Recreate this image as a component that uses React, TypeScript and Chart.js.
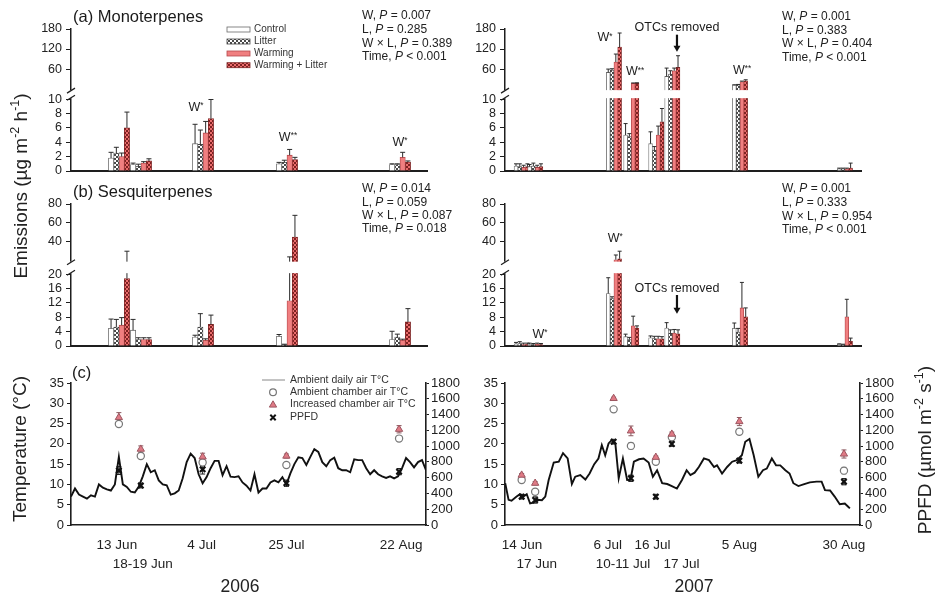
import { useEffect, useRef } from 'react';
import { Chart, registerables, LinearScale } from 'chart.js';

// ---------- broken (two-segment) value scale ----------
class BrokenScale extends LinearScale {
  static id = 'broken';
  static defaults = {};
  getPixelForValue(value: any) {
    const o: any = (this.options as any).brk;
    if (!o || value === null || value === undefined || isNaN(value)) return super.getPixelForValue(value);
    const bottom = this.bottom, top = this.top, h = bottom - top;
    const lowTop = bottom - h * o.lowFrac;
    const highBottom = lowTop - h * o.gapFrac;
    if (value <= o.lowMax) return bottom - (value / o.lowMax) * (bottom - lowTop);
    return highBottom - ((value - o.highMin) / (o.highMax - o.highMin)) * (highBottom - top);
  }
  getValueForPixel(pixel: number) {
    const o: any = (this.options as any).brk;
    if (!o) return super.getValueForPixel(pixel);
    const bottom = this.bottom, top = this.top, h = bottom - top;
    const lowTop = bottom - h * o.lowFrac;
    const highBottom = lowTop - h * o.gapFrac;
    if (pixel >= lowTop) return ((bottom - pixel) / (bottom - lowTop)) * o.lowMax;
    return o.highMin + ((highBottom - pixel) / (highBottom - top)) * (o.highMax - o.highMin);
  }
}
Chart.register(...registerables, BrokenScale as any);

const FONT = "'Liberation Sans', Arial, Helvetica, sans-serif";
const INK = '#1e1e1e';
Chart.defaults.font.family = FONT;
Chart.defaults.color = INK;

// ---------------- DATA ----------------
const treatments = ['Control', 'Litter', 'Warming', 'Warming + Litter'];

// sampling dates (day of year, as placed on the axis)
const sampleDays2006 = [164, 169.5, 185, 206, 234.25];
const sampleDays2007 = [165.4, 168.6, 187.2, 191.3, 197.2, 201.0, 217.0, 241.8];
const xRange2006 = [152, 241];
const xRange2007 = [161.45, 245.6];

// x tick labels (row 0 = first line, row 1 = second line)
const xTickDays2006 = [163.5, 170, 184.75, 206, 234.75];
const xTickText2006 = ['13 Jun', '18-19 Jun', '4 Jul', '25 Jul', '22 Aug'];
const xTickRow2006 = [0, 1, 0, 0, 0];
const xTickDays2007 = [165.5, 169, 185.8, 189.4, 196.4, 203.3, 217, 241.8];
const xTickText2007 = ['14 Jun', '17 Jun', '6 Jul', '10-11 Jul', '16 Jul', '17 Jul', '5 Aug', '30 Aug'];
const xTickRow2007 = [0, 1, 0, 1, 0, 1, 0, 0];

// y tick labels
const monoTicks = [0, 2, 4, 6, 8, 10, 60, 120, 180];
const sesqTicks = [0, 4, 8, 12, 16, 20, 40, 60, 80];
const tempTicks = [0, 5, 10, 15, 20, 25, 30, 35];
const ppfdTicks = [0, 200, 400, 600, 800, 1000, 1200, 1400, 1600, 1800];

// (a) Monoterpenes 2006 : mean and SE
const monoC06 = [1.8, 0.9, 3.8, 1.0, 0.9];
const monoL06 = [2.5, 0.65, 3.7, 1.2, 0.9];
const monoW06 = [2.0, 1.1, 5.3, 2.2, 1.9];
const monoWL06 = [6.0, 1.4, 7.3, 1.6, 1.25];
const monoC06se = [0.8, 0.2, 2.7, 0.2, 0.1];
const monoL06se = [0.8, 0.3, 2.0, 0.3, 0.1];
const monoW06se = [0.5, 0.2, 1.6, 0.8, 0.7];
const monoWL06se = [2.2, 0.3, 2.65, 0.3, 0.15];

// (a) Monoterpenes 2007
const monoC07 = [0.7, 0.6, 50, 5.0, 3.8, 38, 12, 0.3];
const monoL07 = [0.6, 0.7, 57, 4.8, 2.9, 45, 13, 0.3];
const monoW07 = [0.5, 0.5, 81, 17, 5.0, 55, 22, 0.3];
const monoWL07 = [0.6, 0.6, 126, 17, 6.85, 65, 25, 0.4];
const monoC07se = [0.3, 0.3, 10, 1.6, 1.65, 25, 1, 0.1];
const monoL07se = [0.4, 0.4, 4, 0.4, 0.5, 10, 1, 0.1];
const monoW07se = [0.3, 0.3, 24, 1.5, 1.25, 8, 2, 0.1];
const monoWL07se = [0.4, 0.4, 42, 2, 1.85, 35, 3, 0.7];

// (b) Sesquiterpenes 2006
const sesqC06 = [4.9, 4.4, 2.5, 2.7, 1.8];
const sesqL06 = [5.3, 1.8, 5.3, 0.4, 2.5];
const sesqW06 = [5.8, 1.8, 1.6, 12.6, 1.6];
const sesqWL06 = [18.8, 1.8, 6.0, 45, 6.7];
const sesqC06se = [2.6, 3.0, 0.5, 0.5, 2.3];
const sesqL06se = [2.1, 0.5, 3.7, 0.1, 0.8];
const sesqW06se = [2.1, 0.5, 0.4, 11.4, 0.3];
const sesqWL06se = [11.2, 0.5, 2.6, 23, 3.7];

// (b) Sesquiterpenes 2007
const sesqC07 = [0.6, 0.5, 14.6, 2.6, 2.3, 5.0, 4.9, 0.5];
const sesqL07 = [0.7, 0.4, 13.2, 1.8, 2.1, 3.5, 3.9, 0.4];
const sesqW07 = [0.4, 0.5, 21, 5.6, 2.0, 3.6, 10.6, 8.1];
const sesqWL07 = [0.5, 0.4, 22, 5.0, 2.0, 3.4, 8.1, 1.3];
const sesqC07se = [0.4, 0.3, 4.4, 0.7, 0.5, 1.5, 1.5, 0.1];
const sesqL07se = [0.5, 0.3, 0.5, 0.6, 0.6, 1.0, 1.0, 0.1];
const sesqW07se = [0.4, 0.3, 5, 2.7, 0.7, 1.0, 7.1, 4.9];
const sesqWL07se = [0.3, 0.3, 8, 0.6, 0.6, 1.1, 2.5, 0.9];

// statistics text
const pNames = ['W', 'L', 'W \u00d7 L', 'Time'];
const pMono06 = ['= 0.007', '= 0.285', '= 0.389', '< 0.001'];
const pMono07 = ['= 0.001', '= 0.383', '= 0.404', '< 0.001'];
const pSesq06 = ['= 0.014', '= 0.059', '= 0.087', '= 0.018'];
const pSesq07 = ['= 0.001', '= 0.333', '= 0.954', '< 0.001'];

// significance labels (day, value on axis, stars)
const sigMono06Days = [183.25, 206.25, 234.25];
const sigMono06Vals = [8.9, 4.7, 4.0];
const sigMono06Stars = ['*', '**', '*'];
const sigMono07Days = [185.1, 192.2, 217.5];
const sigMono07Vals = [153, 52, 57];
const sigMono07Stars = ['*', '**', '**'];
const sigSesq07Days = [169.7, 187.5];
const sigSesq07Vals = [3.3, 43.6];
const sigSesq07Stars = ['*', '*'];

// "OTCs removed" marker (day, text value, arrow from, arrow to)
const otcMono07 = [202.1, 183, 163, 112];
const otcSesq07 = [202.1, 16.0, 14.2, 9.0];

// (c) chamber temperatures and PPFD
const incT06 = [26.5, 18.7, 16.8, 17.0, 23.6];
const incT06se = [1.2, 0.8, 0.9, 0.5, 0.9];
const ambT06 = [24.9, 17.0, 15.4, 14.8, 21.3];
const ambT06se = [0.5, 0.5, 0.8, 0.6, 0.5];
const ppfd06 = [690, 500, 706, 530, 676];
const ppfd06se = [50, 30, 60, 40, 40];
const incT07 = [12.3, 10.3, 31.2, 23.2, 16.7, 22.4, 25.5, 17.5];
const incT07se = [0.4, 0.4, 0.3, 1.2, 0.3, 0.5, 1.0, 1.0];
const ambT07 = [11.1, 8.2, 28.5, 19.5, 15.6, 21.6, 23.0, 13.4];
const ambT07se = [0.4, 0.6, 0.3, 0.8, 0.5, 0.6, 0.7, 0.8];
const ppfd07 = [359, 317, 1056, 592, 359, 1027, 815, 549];
const ppfd07se = [30, 40, 30, 40, 30, 30, 30, 40];

// ambient daily air temperature 2006 (daily from day 152)
const airT2006Start = 152;
const airT2006 = [
  7.0, 9.0, 7.5, 7.0, 6.5, 7.3, 7.0, 10.0, 9.2, 8.8, 8.5, 10.0, 16.8, 10.0, 9.4, 8.2, 8.0, 9.5,
  12.0, 15.0, 13.0, 13.5, 11.0, 10.0, 9.8, 7.5, 7.8, 8.5, 11.5, 15.5, 17.6, 16.5, 12.5, 10.3,
  11.8, 14.0, 15.8, 15.8, 12.3, 14.5, 11.9, 11.8, 12.0, 10.5, 9.7, 8.5, 12.5, 8.0, 9.0, 9.0,
  10.5, 11.0, 10.5, 11.8, 10.0, 12.7, 15.0, 16.7, 16.5, 14.8, 16.8, 18.7, 18.0, 15.5, 14.5,
  16.0, 16.6, 14.0, 13.5, 13.5, 13.0, 16.2, 16.0, 16.0, 14.0, 12.5, 13.5, 12.5, 12.0, 11.6,
  12.0, 11.5, 12.0, 14.0, 16.5, 15.5, 14.2, 15.5, 16.0, 13.5,
];
// ambient daily air temperature 2007 (read vertices: day, value)
const airT2007Days = [
  161.5, 162.3, 163, 164.2, 165, 165.8, 166.6, 167.4, 168.2, 169, 170.2, 171, 171.8, 173, 174.2,
  175.2, 176.3, 177.3, 178.1, 179.3, 180.5, 181.5, 182.6, 183.6, 184.4, 185.2, 186, 186.8, 187.6,
  188.4, 189.4, 190.4, 191.2, 192, 193.2, 194.3, 195.5, 196.5, 197.5, 198.7, 199.9, 201, 202.2,
  203.4, 204.5, 205.4, 206.4, 207.4, 208.6, 209.8, 211, 211.7, 212.9, 214.1, 215.3, 216.4, 217.6,
  218.4, 219.4, 220.4, 221.5, 222.6, 223.5, 224.7, 225.7, 226.7, 227.9, 228.9, 229.8, 231, 232.2,
  233.7, 235.3, 236.5, 237.3, 238.5, 239.6, 240.8, 242, 242.8, 243.2,
];
const airT2007 = [
  10.3, 6.2, 6.0, 7.0, 7.6, 7.0, 7.6, 5.3, 5.5, 6.2, 6.1, 7.0, 11.1, 15.4, 15.6, 17.7, 16.4, 10.1,
  11.9, 12.3, 11.2, 12.7, 15.0, 16.4, 19.7, 17.2, 20.1, 21.0, 20.1, 11.5, 16.4, 11.1, 11.2, 15.6,
  16.2, 16.4, 15.4, 11.9, 13.5, 10.3, 10.1, 9.6, 9.0, 11.1, 13.5, 12.3, 12.9, 14.3, 16.4, 16.0,
  14.3, 14.7, 12.7, 14.3, 15.6, 16.0, 17.2, 20.5, 21.2, 17.2, 11.9, 13.5, 13.9, 16.4, 14.7, 14.7,
  13.5, 12.7, 10.3, 9.6, 10.0, 10.5, 10.7, 10.7, 8.6, 8.5, 7.0, 5.1, 5.3, 4.5, 4.1,
];

// ---------------- helpers ----------------
type Run = { t: string; it?: boolean; sup?: boolean; raise?: number };

function drawRuns(ctx: CanvasRenderingContext2D, runs: Run[], x: number, y: number, size: number, align: string, color: string) {
  ctx.save();
  ctx.fillStyle = color;
  ctx.textBaseline = 'middle';
  ctx.textAlign = 'left';
  const fonts = runs.map((r) => `${r.it ? 'italic ' : ''}${(r.sup ? size * 0.66 : size).toFixed(1)}px ${FONT}`);
  const widths = runs.map((r, i) => { ctx.font = fonts[i]; return ctx.measureText(r.t).width; });
  const total = widths.reduce((a, b) => a + b, 0);
  let cx = align === 'center' ? x - total / 2 : align === 'right' ? x - total : x;
  runs.forEach((r, i) => {
    ctx.font = fonts[i];
    const dy = r.sup ? -size * (r.raise ?? 0.36) : 0;
    ctx.fillText(r.t, cx, y + dy);
    cx += widths[i];
  });
  ctx.restore();
}

function drawRotated(ctx: CanvasRenderingContext2D, runs: Run[], x: number, y: number, size: number) {
  ctx.save();
  ctx.translate(x, y);
  ctx.rotate(-Math.PI / 2);
  drawRuns(ctx, runs, 0, 0, size, 'center', '#222');
  ctx.restore();
}

function makePattern(bg: string, fg: string) {
  const c = document.createElement('canvas');
  c.width = 4; c.height = 4;
  const g = c.getContext('2d') as CanvasRenderingContext2D;
  g.fillStyle = bg; g.fillRect(0, 0, 4, 4);
  g.fillStyle = fg; g.fillRect(0, 0, 2, 2); g.fillRect(2, 2, 2, 2);
  return g.createPattern(c, 'repeat') as CanvasPattern;
}

function pRuns(name: string, val: string): Run[] {
  return [{ t: name + ', ' }, { t: 'P', it: true }, { t: ' ' + val }];
}

const W = 944, H = 598, YW = 40;

function triangle(ctx: CanvasRenderingContext2D, x: number, y: number, r: number) {
  ctx.beginPath();
  ctx.moveTo(x, y - r);
  ctx.lineTo(x + r * 0.87, y + r * 0.5);
  ctx.lineTo(x - r * 0.87, y + r * 0.5);
  ctx.closePath();
}

function makeBarChart(canvas: HTMLCanvasElement, p: any, pats: any) {
  const fills = ['#ffffff', pats.litter, '#f07f80', pats.wl];
  const borders = ['#6a6a6a', '#444444', '#b5484b', '#7a2424'];
  const datasets = p.series.map((vals: number[], i: number) => ({
    label: treatments[i],
    data: vals.map((v, j) => ({ x: p.days[j], y: v })),
    backgroundColor: fills[i],
    borderColor: borders[i],
    borderWidth: 0.8,
    barThickness: p.barW,
  }));
  const a = p.area;
  const decor = {
    id: 'barDecor',
    afterDatasetsDraw(chart: any) {
      const ctx = chart.ctx as CanvasRenderingContext2D;
      const ys = chart.scales.y;
      const area = chart.chartArea;
      ctx.save();
      ctx.strokeStyle = '#2b2b2b';
      ctx.lineWidth = 1;
      p.series.forEach((vals: number[], di: number) => {
        const meta = chart.getDatasetMeta(di);
        meta.data.forEach((el: any, j: number) => {
          const e = p.ses[di][j];
          if (!e) return;
          const yTop = ys.getPixelForValue(vals[j] + e);
          ctx.beginPath();
          ctx.moveTo(el.x, el.y);
          ctx.lineTo(el.x, yTop);
          ctx.moveTo(el.x - p.cap, yTop);
          ctx.lineTo(el.x + p.cap, yTop);
          ctx.stroke();
        });
      });
      // axis break
      const h = area.bottom - area.top;
      const lowTop = area.bottom - h * p.brk.lowFrac;
      const highBottom = lowTop - h * p.brk.gapFrac;
      ctx.fillStyle = '#ffffff';
      ctx.fillRect(area.left - 7, highBottom + 1, area.right - area.left + 9, lowTop - highBottom - 2);
      ctx.strokeStyle = INK;
      ctx.lineWidth = 1.2;
      [highBottom + 1.5, lowTop - 1.5].forEach((yy) => {
        ctx.beginPath();
        ctx.moveTo(area.left - 4, yy + 2.5);
        ctx.lineTo(area.left + 4, yy - 2.5);
        ctx.stroke();
      });
      ctx.restore();
    },
    afterDraw(chart: any) {
      const ctx = chart.ctx as CanvasRenderingContext2D;
      const xs = chart.scales.x, ys = chart.scales.y;
      if (p.title) drawRuns(ctx, [{ t: p.title }], a.l + 2, a.t - 12, 16.5, 'left', '#1a1a1a');
      p.pVals.forEach((v: string, i: number) => drawRuns(ctx, pRuns(pNames[i], v), p.pX, p.pY[i], 12, 'left', '#222'));
      p.sigDays.forEach((d: number, i: number) => {
        drawRuns(ctx, [{ t: 'W' }, { t: p.sigStars[i], sup: true, raise: 0.12 }], xs.getPixelForValue(d), ys.getPixelForValue(p.sigVals[i]), 12.5, 'center', '#222');
      });
      if (p.otc) {
        const x = xs.getPixelForValue(p.otc[0]);
        drawRuns(ctx, [{ t: 'OTCs removed' }], x, ys.getPixelForValue(p.otc[1]), 12.5, 'center', '#1a1a1a');
        const y1 = ys.getPixelForValue(p.otc[2]);
        const y2 = ys.getPixelForValue(p.otc[3]);
        ctx.save();
        ctx.strokeStyle = '#111'; ctx.fillStyle = '#111'; ctx.lineWidth = 2.2;
        ctx.beginPath(); ctx.moveTo(x, y1); ctx.lineTo(x, y2 - 5); ctx.stroke();
        ctx.beginPath(); ctx.moveTo(x - 3.5, y2 - 6); ctx.lineTo(x + 3.5, y2 - 6); ctx.lineTo(x, y2); ctx.closePath(); ctx.fill();
        ctx.restore();
      }
      if (p.legend) {
        const rows = [29.5, 41.5, 53.5, 65.2];
        treatments.forEach((t, i) => {
          ctx.save();
          ctx.fillStyle = fills[i];
          ctx.strokeStyle = borders[i];
          ctx.lineWidth = 0.8;
          ctx.fillRect(227, rows[i] - 2.5, 23, 5);
          ctx.strokeRect(227, rows[i] - 2.5, 23, 5);
          ctx.restore();
          drawRuns(ctx, [{ t: t }], 254, rows[i], 10, 'left', '#333');
        });
      }
    },
  };
  return new Chart(canvas, {
    type: 'bar',
    data: { datasets },
    options: {
      responsive: false,
      animation: false,
      devicePixelRatio: 1,
      events: [],
      layout: { padding: { left: a.l - YW, top: a.t, right: W - a.r, bottom: H - a.b } },
      plugins: { legend: { display: false }, tooltip: { enabled: false } },
      scales: {
        x: {
          type: 'linear', min: p.range[0], max: p.range[1], offset: false,
          grid: { display: false, offset: false },
          ticks: { display: false },
          border: { display: true, color: INK, width: 2 },
          afterFit: (s: any) => { s.height = 0; },
        },
        y: {
          type: 'broken', min: 0, max: p.brk.highMax, brk: p.brk,
          grid: { display: true, drawOnChartArea: false, drawTicks: true, tickLength: 5, color: INK, lineWidth: 1 },
          border: { display: true, color: INK, width: 1.5 },
          ticks: { font: { size: 12.5 }, color: '#222', padding: 4, autoSkip: false, callback: (v: any) => String(v) },
          afterBuildTicks: (s: any) => { s.ticks = p.ticks.map((v: number) => ({ value: v })); },
          afterFit: (s: any) => { s.width = YW; },
        },
      },
    } as any,
    plugins: [decor],
  } as any);
}

function makeTempChart(canvas: HTMLCanvasElement, p: any) {
  const a = p.area;
  const pts = (vals: number[]) => vals.map((v, j) => ({ x: p.days[j], y: v }));
  const datasets = [
    { label: 'PPFD', data: pts(p.ppfd), showLine: false, pointStyle: 'crossRot', pointRadius: 3.8, pointBorderColor: '#111', pointBorderWidth: 2.2, yAxisID: 'y2' },
    { label: 'Increased chamber air T\u00b0C', data: pts(p.inc), showLine: false, pointStyle: 'triangle', pointRadius: 4.2, pointBackgroundColor: '#df7a85', pointBorderColor: '#9c5660', pointBorderWidth: 1, yAxisID: 'y' },
    { label: 'Ambient chamber air T\u00b0C', data: pts(p.amb), showLine: false, pointStyle: 'circle', pointRadius: 3.6, pointBackgroundColor: '#ffffff', pointBorderColor: '#777777', pointBorderWidth: 1.2, yAxisID: 'y' },
    { label: 'Ambient daily air T\u00b0C', data: p.lineX.map((d: number, i: number) => ({ x: d, y: p.lineY[i] })), borderColor: '#111', borderWidth: 1.9, pointRadius: 0, tension: 0, yAxisID: 'y' },
  ];
  const errSets = [[0, p.ppfdSe, 'y2', '#222'], [1, p.incSe, 'y', '#8a5a60'], [2, p.ambSe, 'y', '#888']];
  const decor = {
    id: 'tempDecor',
    beforeDatasetsDraw(chart: any) {
      const ctx = chart.ctx as CanvasRenderingContext2D;
      ctx.save();
      ctx.lineWidth = 1;
      errSets.forEach((es: any) => {
        const meta = chart.getDatasetMeta(es[0]);
        const sc = chart.scales[es[2]];
        const vals = [p.ppfd, p.inc, p.amb][es[0]];
        ctx.strokeStyle = es[3];
        meta.data.forEach((el: any, j: number) => {
          const up = sc.getPixelForValue(vals[j] + es[1][j]);
          const dn = sc.getPixelForValue(vals[j] - es[1][j]);
          ctx.beginPath();
          ctx.moveTo(el.x, up); ctx.lineTo(el.x, dn);
          ctx.moveTo(el.x - 2.5, up); ctx.lineTo(el.x + 2.5, up);
          ctx.moveTo(el.x - 2.5, dn); ctx.lineTo(el.x + 2.5, dn);
          ctx.stroke();
        });
      });
      ctx.restore();
    },
    afterDraw(chart: any) {
      const ctx = chart.ctx as CanvasRenderingContext2D;
      if (p.title) drawRuns(ctx, [{ t: p.title }], a.l + 1, a.t - 10, 16.5, 'left', '#1a1a1a');
      if (p.legend) {
        const rows = [380, 392.3, 404.5, 417.5];
        const labels = ['Ambient daily air T\u00b0C', 'Ambient chamber air T\u00b0C', 'Increased chamber air T\u00b0C', 'PPFD'];
        ctx.save();
        ctx.strokeStyle = '#888'; ctx.lineWidth = 1;
        ctx.beginPath(); ctx.moveTo(262, rows[0]); ctx.lineTo(285, rows[0]); ctx.stroke();
        ctx.fillStyle = '#fff'; ctx.strokeStyle = '#777'; ctx.lineWidth = 1.2;
        ctx.beginPath(); ctx.arc(273, rows[1], 3.4, 0, Math.PI * 2); ctx.fill(); ctx.stroke();
        ctx.fillStyle = '#df7a85'; ctx.strokeStyle = '#9c5660'; ctx.lineWidth = 1;
        triangle(ctx, 273, rows[2] + 0.5, 4.2); ctx.fill(); ctx.stroke();
        ctx.strokeStyle = '#111'; ctx.lineWidth = 2;
        ctx.beginPath(); ctx.moveTo(270.3, rows[3] - 2.7); ctx.lineTo(275.7, rows[3] + 2.7); ctx.moveTo(275.7, rows[3] - 2.7); ctx.lineTo(270.3, rows[3] + 2.7); ctx.stroke();
        ctx.restore();
        labels.forEach((t, i) => drawRuns(ctx, [{ t }], 290, rows[i], 10.5, 'left', '#333'));
      }
      if (p.globals) {
        drawRotated(ctx, [{ t: 'Emissions (\u00b5g m' }, { t: '-2', sup: true }, { t: ' h' }, { t: '-1', sup: true }, { t: ')' }], 22, 186, 19);
        drawRotated(ctx, [{ t: 'Temperature (\u00b0C)' }], 21, 449, 19);
        drawRotated(ctx, [{ t: 'PPFD (\u00b5mol m' }, { t: '-2', sup: true }, { t: ' s' }, { t: '-1', sup: true }, { t: ')' }], 926, 450, 19);
        drawRuns(ctx, [{ t: '2006' }], 240, 587, 17.5, 'center', '#222');
        drawRuns(ctx, [{ t: '2007' }], 694, 587, 17.5, 'center', '#222');
      }
    },
  };
  return new Chart(canvas, {
    type: 'line',
    data: { datasets },
    options: {
      responsive: false,
      animation: false,
      devicePixelRatio: 1,
      events: [],
      layout: { padding: { left: a.l - YW, top: a.t, right: W - a.r - 50, bottom: H - a.b - 45 } },
      plugins: { legend: { display: false }, tooltip: { enabled: false } },
      scales: {
        x: {
          type: 'linear', min: p.range[0], max: p.range[1], offset: false,
          grid: { display: false },
          border: { display: true, color: INK, width: 1.6 },
          ticks: {
            autoSkip: false, maxRotation: 0, minRotation: 0, padding: 3, color: '#222',
            font: { size: 13.5, lineHeight: 1.4 },
            callback: (_v: any, i: number) => (p.tickRow[i] ? ['', p.tickText[i]] : p.tickText[i]),
          },
          afterBuildTicks: (s: any) => { s.ticks = p.tickDays.map((v: number) => ({ value: v })); },
          afterFit: (s: any) => { s.height = 45; },
        },
        y: {
          position: 'left', min: 0, max: 35,
          grid: { display: true, drawOnChartArea: false, tickLength: 4, color: INK },
          border: { display: true, color: INK, width: 1.6 },
          ticks: { autoSkip: false, font: { size: 13 }, color: '#222', padding: 3, callback: (v: any) => String(v) },
          afterBuildTicks: (s: any) => { s.ticks = tempTicks.map((v) => ({ value: v })); },
          afterFit: (s: any) => { s.width = YW; },
        },
        y2: {
          position: 'right', min: 0, max: 1800,
          grid: { display: true, drawOnChartArea: false, tickLength: 3, color: INK },
          border: { display: true, color: INK, width: 1.6 },
          ticks: { autoSkip: false, font: { size: 13 }, color: '#222', padding: 2, callback: (v: any) => String(v) },
          afterBuildTicks: (s: any) => { s.ticks = ppfdTicks.map((v) => ({ value: v })); },
          afterFit: (s: any) => { s.width = 50; },
        },
      },
    } as any,
    plugins: [decor],
  } as any);
}

const monoBrk = { lowMax: 10, highMin: 0, highMax: 180, lowFrac: 0.506, gapFrac: 0.0706 };
const sesqBrk = { lowMax: 20, highMin: 20, highMax: 80, lowFrac: 0.506, gapFrac: 0.095 };

export default function App() {
  const refs = useRef<(HTMLCanvasElement | null)[]>([]);
  useEffect(() => {
    const pats = { litter: makePattern('#ffffff', '#4a4a4a'), wl: makePattern('#ea6c6c', '#7e2222') };
    const c = refs.current as HTMLCanvasElement[];
    const area06a = { l: 71, r: 427, t: 29, b: 171 };
    const area07a = { l: 505, r: 861, t: 29, b: 171 };
    const area06b = { l: 71, r: 427, t: 204, b: 346 };
    const area07b = { l: 505, r: 861, t: 204, b: 346 };
    const charts = [
      makeBarChart(c[0], {
        days: sampleDays2006, range: xRange2006, area: area06a, brk: monoBrk, ticks: monoTicks, barW: 5.3, cap: 2.5,
        series: [monoC06, monoL06, monoW06, monoWL06], ses: [monoC06se, monoL06se, monoW06se, monoWL06se],
        title: '(a) Monoterpenes', pVals: pMono06, pX: 362, pY: [16, 30, 43.5, 57],
        sigDays: sigMono06Days, sigVals: sigMono06Vals, sigStars: sigMono06Stars, legend: true,
      }, pats),
      makeBarChart(c[1], {
        days: sampleDays2007, range: xRange2007, area: area07a, brk: monoBrk, ticks: monoTicks, barW: 3.8, cap: 2,
        series: [monoC07, monoL07, monoW07, monoWL07], ses: [monoC07se, monoL07se, monoW07se, monoWL07se],
        pVals: pMono07, pX: 782, pY: [16.5, 30.5, 44, 57.5],
        sigDays: sigMono07Days, sigVals: sigMono07Vals, sigStars: sigMono07Stars, otc: otcMono07,
      }, pats),
      makeBarChart(c[2], {
        days: sampleDays2006, range: xRange2006, area: area06b, brk: sesqBrk, ticks: sesqTicks, barW: 5.3, cap: 2.5,
        series: [sesqC06, sesqL06, sesqW06, sesqWL06], ses: [sesqC06se, sesqL06se, sesqW06se, sesqWL06se],
        title: '(b) Sesquiterpenes', pVals: pSesq06, pX: 362, pY: [188.5, 202.5, 215.5, 228.5],
        sigDays: [], sigVals: [], sigStars: [],
      }, pats),
      makeBarChart(c[3], {
        days: sampleDays2007, range: xRange2007, area: area07b, brk: sesqBrk, ticks: sesqTicks, barW: 3.8, cap: 2,
        series: [sesqC07, sesqL07, sesqW07, sesqWL07], ses: [sesqC07se, sesqL07se, sesqW07se, sesqWL07se],
        pVals: pSesq07, pX: 782, pY: [189, 203, 216.5, 229.5],
        sigDays: sigSesq07Days, sigVals: sigSesq07Vals, sigStars: sigSesq07Stars, otc: otcSesq07,
      }, pats),
      makeTempChart(c[4], {
        days: sampleDays2006, range: xRange2006, area: { l: 71, r: 426, t: 383, b: 525 },
        inc: incT06, incSe: incT06se, amb: ambT06, ambSe: ambT06se, ppfd: ppfd06, ppfdSe: ppfd06se,
        lineX: airT2006.map((_v, i) => airT2006Start + i), lineY: airT2006,
        tickDays: xTickDays2006, tickText: xTickText2006, tickRow: xTickRow2006,
        title: '(c)', legend: true, globals: true,
      }),
      makeTempChart(c[5], {
        days: sampleDays2007, range: xRange2007, area: { l: 505, r: 860, t: 383, b: 525 },
        inc: incT07, incSe: incT07se, amb: ambT07, ambSe: ambT07se, ppfd: ppfd07, ppfdSe: ppfd07se,
        lineX: airT2007Days, lineY: airT2007,
        tickDays: xTickDays2007, tickText: xTickText2007, tickRow: xTickRow2007,
      }),
    ];
    return () => charts.forEach((ch) => ch.destroy());
  }, []);
  return (
    <div style={{ position: 'fixed', left: 0, top: 0, width: W, height: H, background: '#ffffff', overflow: 'hidden' }}>
      {[0, 1, 2, 3, 4, 5].map((i) => (
        <canvas
          key={i}
          ref={(el) => { refs.current[i] = el; }}
          width={W}
          height={H}
          style={{ position: 'absolute', left: 0, top: 0, width: W, height: H }}
        />
      ))}
    </div>
  );
}
